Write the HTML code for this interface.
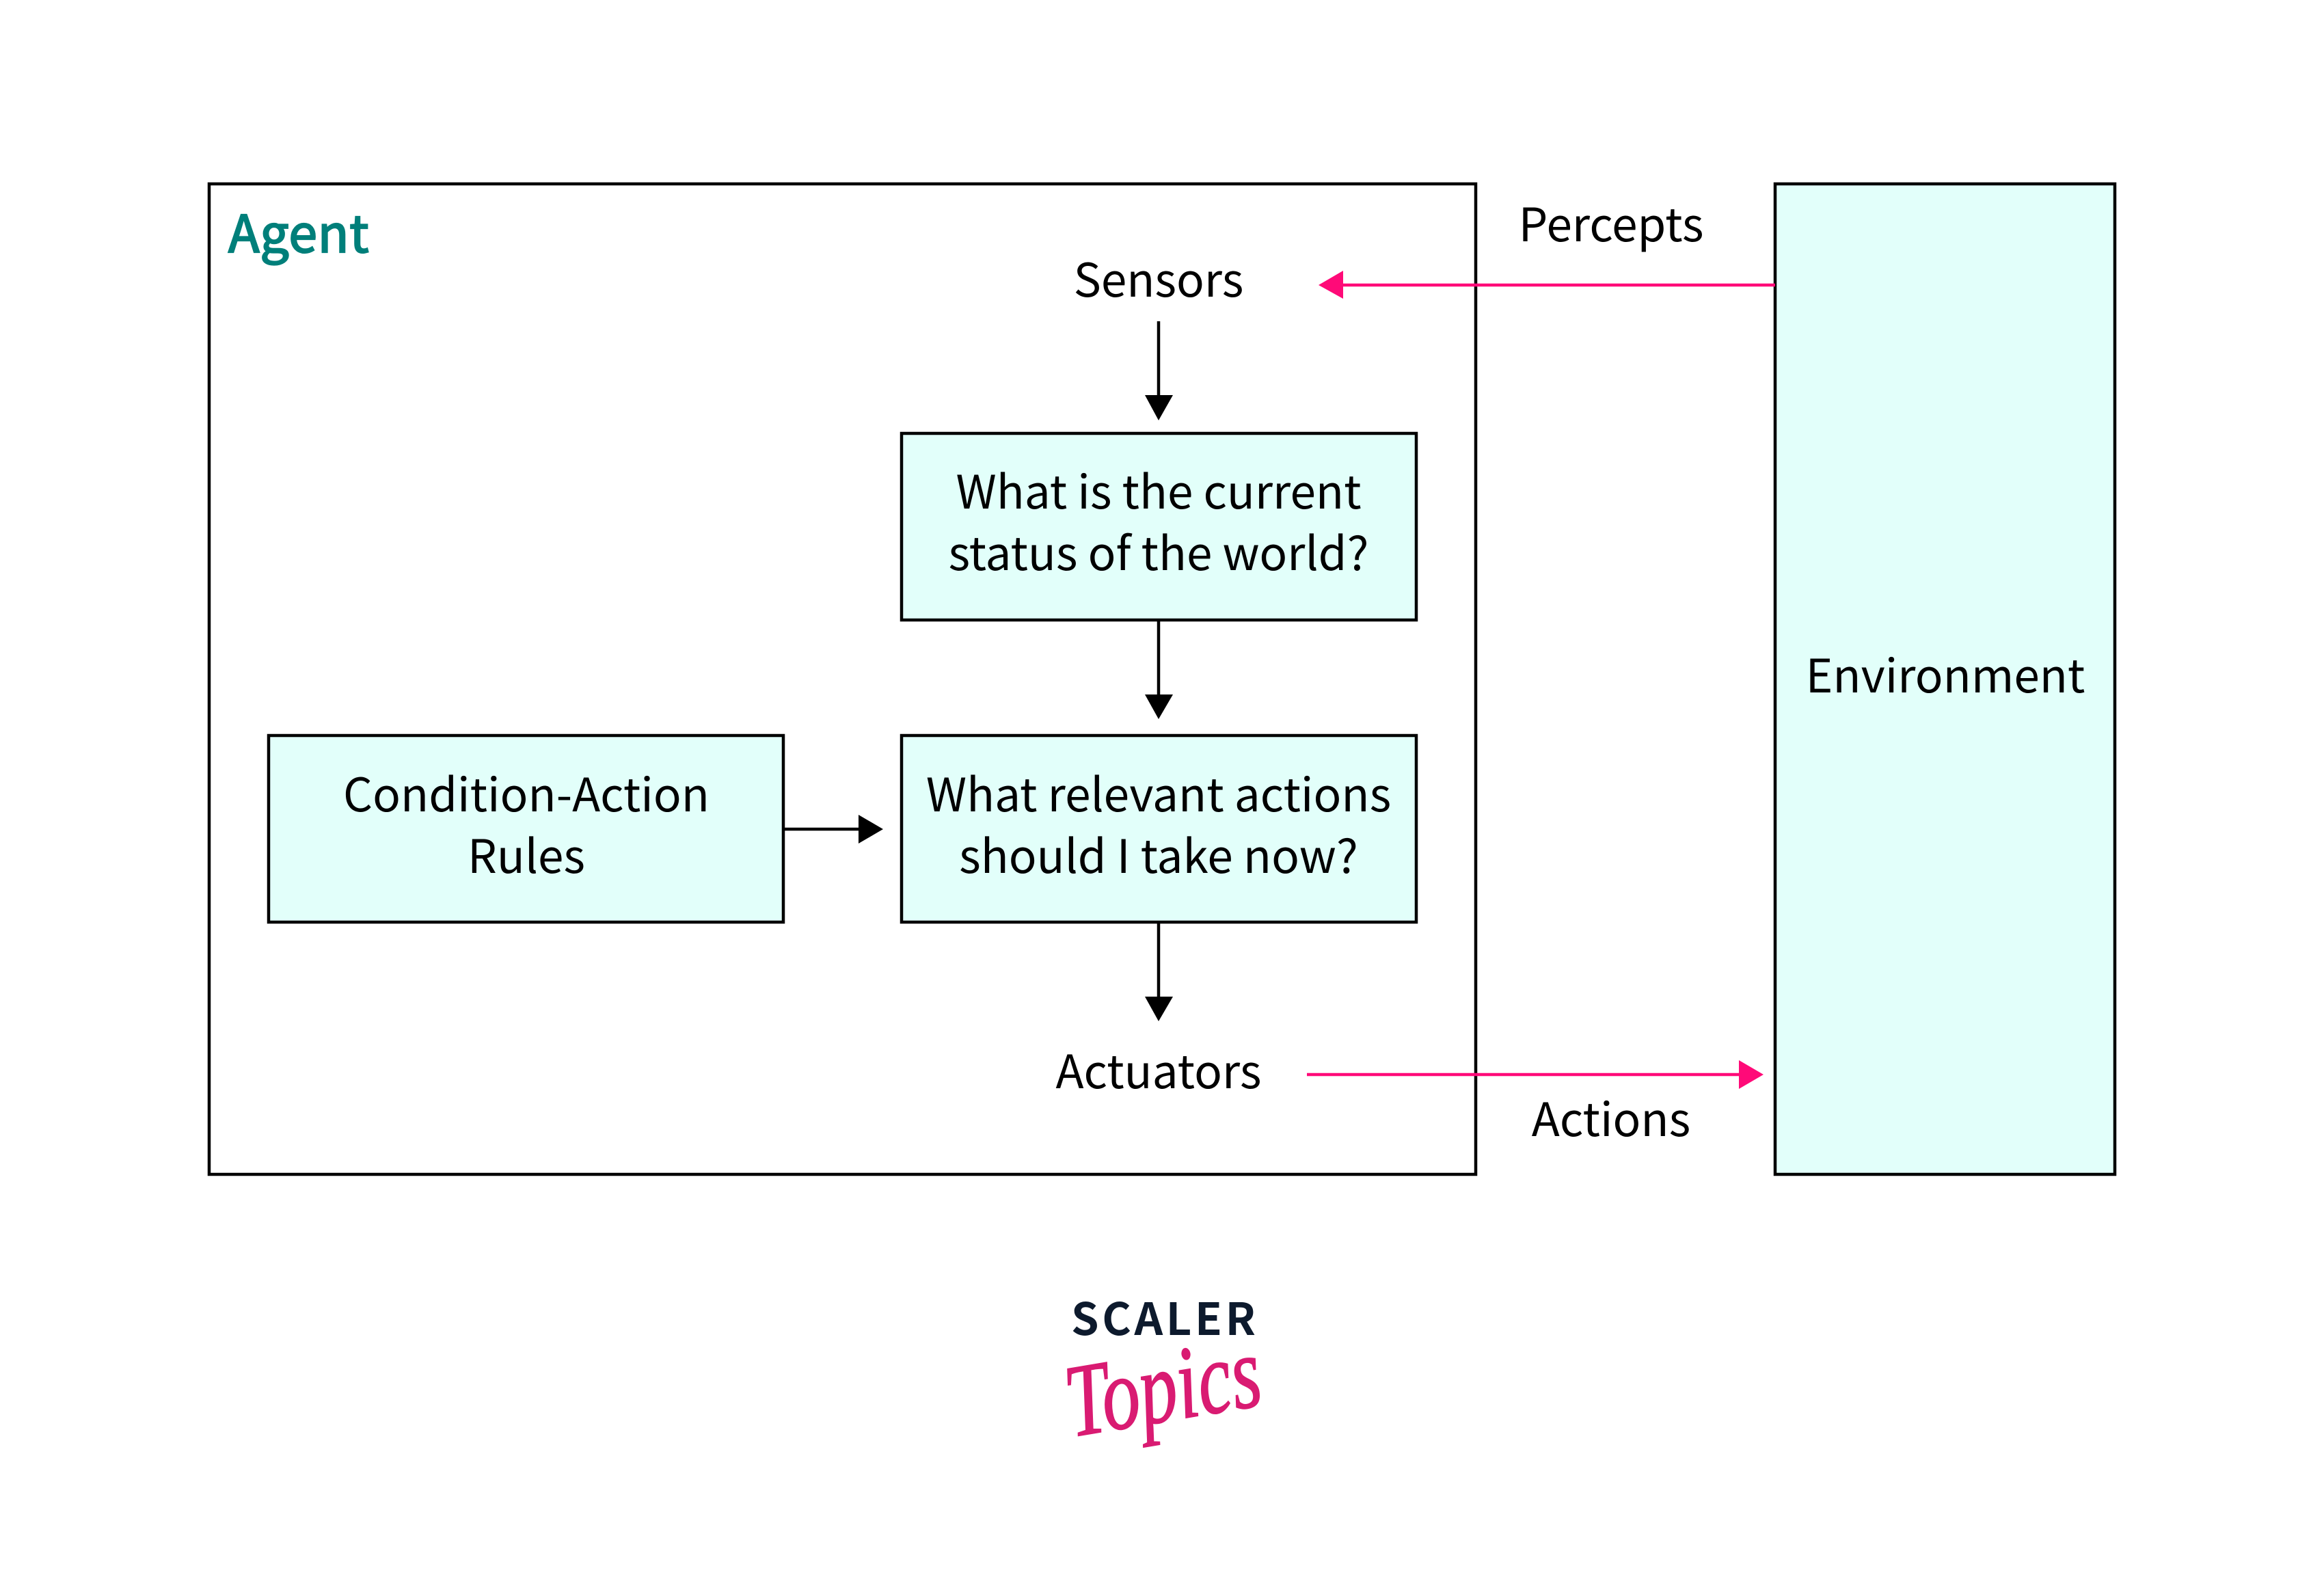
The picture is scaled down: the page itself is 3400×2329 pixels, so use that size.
<!DOCTYPE html>
<html>
<head>
<meta charset="utf-8">
<style>
html,body{margin:0;padding:0;background:#fff;}
svg{display:block;}
text{font-family:"Noto Sans CJK SC","Liberation Sans",sans-serif;font-size:67.500px;fill:#000;text-anchor:middle;}
</style>
</head>
<body>
<svg width="3400" height="2329" viewBox="0 0 3400 2329" xmlns="http://www.w3.org/2000/svg">
<rect width="3400" height="2329" fill="#fff"/>
<g stroke="#000" stroke-width="4.500">
<rect x="306" y="269" width="1853" height="1449" fill="#fff"/>
<rect x="2597" y="269" width="497" height="1449" fill="#e2fffa"/>
<rect x="1319" y="634" width="753" height="273" fill="#e2fffa"/>
<rect x="1319" y="1076" width="753" height="273" fill="#e2fffa"/>
<rect x="393" y="1076" width="753" height="273" fill="#e2fffa"/>
<path fill="none" d="M1695 470V580M1695 907V1020M1695 1349V1462M1146 1213H1258"/>
</g>
<path d="M1675 578H1716L1695 615ZM1675 1016H1716L1695 1052ZM1675 1458H1716L1695 1494ZM1256 1192V1234L1292 1213Z" fill="#000"/>
<g stroke="#ff0a78" stroke-width="4.500" fill="none"><path d="M2597 417H1960M1912 1572H2548"/></g>
<path d="M1929 417L1965 396V437ZM2580 1572L2544 1551V1593Z" fill="#ff0a78"/>
<text x="334" y="369" style="text-anchor:start;font-size:75px;letter-spacing:0.800px;fill:#007f7a;stroke:#007f7a;stroke-width:2.200px">Agent</text>
<text x="1695" y="434">Sensors</text>
<text x="2357" y="353">Percepts</text>
<text x="1695" y="744">What is the current</text>
<text x="1695" y="834">status of the world?</text>
<text x="1695" y="1187">What relevant actions</text>
<text x="1695" y="1277">should I take now?</text>
<text x="770" y="1187">Condition-Action</text>
<text x="770" y="1277">Rules</text>
<text x="2846" y="1013">Environment</text>
<text x="1695" y="1592">Actuators</text>
<text x="2357" y="1662">Actions</text>
<text x="1702" y="1953" textLength="270" lengthAdjust="spacing" style="font-size:65px;font-weight:700;fill:#0d1a2d;">SCALER</text>
<text transform="translate(1568 2102) rotate(-9.500) scale(0.87 1.18)" style="text-anchor:start;font-family:'Liberation Serif',serif;font-style:italic;font-size:128px;fill:#d91b72;stroke:#d91b72;stroke-width:1.500px;">Topics</text>
</svg>
</body>
</html>
